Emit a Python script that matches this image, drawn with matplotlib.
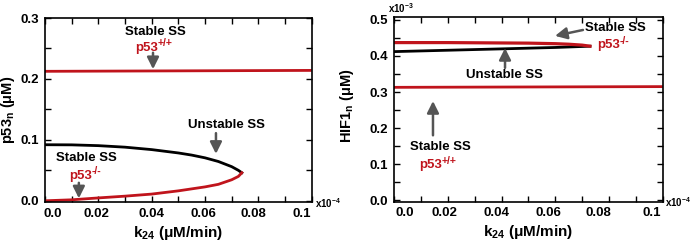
import matplotlib
matplotlib.use("Agg")
import matplotlib.pyplot as plt
from matplotlib.ticker import MultipleLocator, FixedLocator, FixedFormatter
from matplotlib.transforms import ScaledTranslation

plt.rcParams['font.family'] = ['Liberation Sans', 'DejaVu Sans']
plt.rcParams['font.weight'] = 'bold'
plt.rcParams['mathtext.fontset'] = 'custom'
plt.rcParams['mathtext.rm'] = 'Liberation Sans:bold'
plt.rcParams['mathtext.bf'] = 'Liberation Sans:bold'
plt.rcParams['mathtext.it'] = 'Liberation Sans:bold'

RED = '#c0141c'
BLACK = '#000000'
GRAY = '#555555'

# ---------------- data (k24 in units of 1e-4 uM/min) ----------------
# Left panel: p53_n (uM)
k_wt = [0.0, 0.02, 0.04, 0.06, 0.08, 0.1]
p53_wt = [0.2125, 0.2128, 0.2131, 0.2134, 0.2137, 0.2140]

k_ko_stable = [0.0, 0.01, 0.02, 0.03, 0.04, 0.05, 0.06, 0.065, 0.07, 0.0725, 0.0738]
p53_ko_stable = [0.0, 0.0016, 0.0047, 0.0076, 0.0110, 0.0163, 0.0228, 0.0270, 0.0345, 0.0400, 0.0460]

k_ko_unstable = [0.0, 0.01, 0.02, 0.03, 0.04, 0.05, 0.055, 0.06, 0.065, 0.07, 0.0725, 0.0738]
p53_ko_unstable = [0.0920, 0.0918, 0.0905, 0.0880, 0.0840, 0.0785, 0.0750, 0.0705, 0.0645, 0.0560, 0.0500, 0.0460]

# Right panel: HIF1_n (x1e-3 uM)
hif_k_wt = [0.0, 0.02, 0.04, 0.06, 0.08, 0.1]
hif_wt = [0.3130, 0.3134, 0.3138, 0.3142, 0.3146, 0.3150]

hif_k_ko_stable = [0.0, 0.02, 0.04, 0.05, 0.06, 0.065, 0.07, 0.0729]
hif_ko_stable = [0.437, 0.437, 0.436, 0.4355, 0.434, 0.4325, 0.430, 0.427]

hif_k_ko_unstable = [0.0, 0.02, 0.04, 0.06, 0.0729]
hif_ko_unstable = [0.412, 0.4158, 0.4196, 0.4235, 0.427]

xticks = [0.0, 0.02, 0.04, 0.06, 0.08, 0.1]
xticklabels = ['0.0', '0.02', '0.04', '0.06', '0.08', '0.1']
yticks_left = [0.0, 0.1, 0.2, 0.3]
yticklabels_left = ['0.0', '0.1', '0.2', '0.3']
yticks_right = [0.0, 0.1, 0.2, 0.3, 0.4, 0.5]
yticklabels_right = ['0.0', '0.1', '0.2', '0.3', '0.4', '0.5']

fig = plt.figure(figsize=(6.91, 2.45), dpi=100)
axL = fig.add_axes([0.0651, 0.1755, 0.386, 0.751])
axR = fig.add_axes([0.5702, 0.1767, 0.389, 0.754])

LW = 2.0
axL.plot(k_wt, p53_wt, color=RED, lw=LW, solid_capstyle='butt')
axL.plot(k_ko_unstable, p53_ko_unstable, color=BLACK, lw=LW)
axL.plot(k_ko_stable, p53_ko_stable, color=RED, lw=LW)

axR.plot(hif_k_wt, hif_wt, color=RED, lw=LW, solid_capstyle='butt')
axR.plot(hif_k_ko_unstable, hif_ko_unstable, color=BLACK, lw=LW)
axR.plot(hif_k_ko_stable, hif_ko_stable, color=RED, lw=LW + 0.3)

def style(ax, yticks, ylabels, ylim):
    ax.set_xlim(0, 0.1)
    ax.set_ylim(*ylim)
    ax.xaxis.set_major_locator(FixedLocator(xticks))
    ax.xaxis.set_major_formatter(FixedFormatter(xticklabels))
    ax.xaxis.set_minor_locator(MultipleLocator(0.01))
    ax.yaxis.set_major_locator(FixedLocator(yticks))
    ax.yaxis.set_major_formatter(FixedFormatter(ylabels))
    ax.yaxis.set_minor_locator(MultipleLocator(0.05))
    ax.tick_params(which='both', direction='in', top=True, right=True, width=1.0)
    ax.tick_params(which='major', length=4, labelsize=9.5, pad=4)
    ax.tick_params(which='minor', length=4)
    for s in ax.spines.values():
        s.set_linewidth(1.2)
    ax.set_xlabel(r'k$_{\mathbf{24}}$ (μM/min)', fontsize=11, fontweight='bold', labelpad=3)

style(axL, yticks_left, yticklabels_left, (-0.002, 0.3))
style(axR, yticks_right, yticklabels_right, (-0.004, 0.508))
axL.set_ylabel(r'p53$_{\mathbf{n}}$ (μM)', fontsize=10.5, fontweight='bold')
axR.set_ylabel(r'HIF1$_{\mathbf{n}}$ (μM)', fontsize=10.5, fontweight='bold')
axL.yaxis.set_label_coords(-0.1035, 0.5)
axR.yaxis.set_label_coords(-0.14, 0.52)

axL.text(1.012, -0.03, r'x10$^{\mathbf{-4}}$', transform=axL.transAxes, fontsize=7, ha='left', va='baseline')
axR.text(1.008, -0.03, r'x10$^{\mathbf{-4}}$', transform=axR.transAxes, fontsize=7, ha='left', va='baseline')
axR.text(-0.022, 1.022, r'x10$^{\mathbf{-3}}$', transform=axR.transAxes, fontsize=7, ha='left', va='baseline')

aprops = dict(arrowstyle='-|>,head_length=0.7,head_width=0.35', color=GRAY, lw=1.8,
              shrinkA=0, shrinkB=0, mutation_scale=10)
TS = 9.5
SUP = 7.5

def p53_label(ax, x, y, sup):
    t = ax.text(x, y, 'p53', fontsize=TS, color=RED, ha='left', va='center')
    ax.annotate(sup, xy=(1.0, 0.45), xycoords=t, fontsize=SUP, color=RED,
                ha='left', va='bottom')

# Left annotations
axL.text(0.0412, 0.2775, 'Stable SS', fontsize=TS, ha='center', va='center')
p53_label(axL, 0.0337, 0.251, '+/+')
axL.annotate('', xy=(0.0405, 0.216), xytext=(0.0405, 0.243), arrowprops=aprops)
axL.text(0.068, 0.1246, 'Unstable SS', fontsize=TS, ha='center', va='center')
axL.annotate('', xy=(0.0641, 0.077), xytext=(0.0641, 0.111), arrowprops=aprops)
axL.text(0.0157, 0.0705, 'Stable SS', fontsize=TS, ha='center', va='center')
p53_label(axL, 0.009, 0.041, '-/-')
axL.annotate('', xy=(0.0127, 0.004), xytext=(0.0127, 0.0295), arrowprops=aprops)

# Right annotations
axR.text(0.0824, 0.477, 'Stable SS', fontsize=TS, ha='center', va='center')
axR.annotate('', xy=(0.0599, 0.4556), xytext=(0.0703, 0.472), arrowprops=aprops)
p53_label(axR, 0.0754, 0.43, '-/-')
axR.text(0.0409, 0.347, 'Unstable SS', fontsize=TS, ha='center', va='center')
axR.annotate('', xy=(0.0413, 0.422), xytext=(0.0413, 0.367), arrowprops=aprops)
axR.text(0.0171, 0.147, 'Stable SS', fontsize=TS, ha='center', va='center')
p53_label(axR, 0.0093, 0.097, '+/+')
axR.annotate('', xy=(0.0145, 0.275), xytext=(0.0145, 0.180), arrowprops=aprops)

# tick-label horizontal offsets (pixels) as positioned in the reference
fig.canvas.draw()
offsL = [8, -1.6, 0, -2, -5, -10]
offsR = [11, -3, -5, -7, -11, -11]
for ax, offs in ((axL, offsL), (axR, offsR)):
    for tick, dx in zip(ax.xaxis.get_major_ticks(), offs):
        lbl = tick.label1
        lbl.set_transform(lbl.get_transform() + ScaledTranslation(dx / 100.0, 0, fig.dpi_scale_trans))

fig.savefig('out.png', dpi=100)
